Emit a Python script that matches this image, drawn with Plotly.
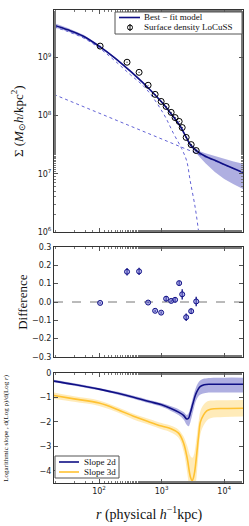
import numpy as np
import plotly.graph_objects as go

# ---------------- data ----------------
# LoCuSS surface density points
r_data = [104, 280, 436, 608, 787, 982, 1180, 1420, 1640, 1905, 2130, 2466, 2965, 3565]
sigma_data = [1.55e9, 8.2e8, 5.5e8, 3.3e8, 2.3e8, 1.74e8, 1.43e8, 1.13e8, 9.2e7, 7.9e7,
              6.2e7, 4.2e7, 3.16e7, 2.5e7]
sigma_err = [2.0e7, 1.5e7, 1.0e7, 4.0e6, 3.0e6, 2.5e6, 2.5e6, 2.0e6, 1.8e6, 1.5e6,
             1.2e6, 1.0e6, 8.0e5, 7.0e5]

# residuals
diff = [-0.005, 0.165, 0.167, -0.003, -0.048, -0.058, 0.018, 0.006, 0.012, 0.103,
        0.042, -0.083, -0.05, 0.003]
diff_err = [0.004, 0.02, 0.02, 0.004, 0.006, 0.006, 0.015, 0.008, 0.015, 0.012,
            0.028, 0.02, 0.015, 0.026]

# best-fit model (log10 r, log10 Sigma) and band
logr_fit = [1.28, 1.5, 1.75, 2.0, 2.25, 2.5, 2.75, 3.0, 3.15, 3.3, 3.4, 3.45, 3.5,
            3.55, 3.6, 3.7, 3.85, 4.0, 4.15, 4.3]
logS_fit = [9.55, 9.47, 9.36, 9.19, 8.99, 8.76, 8.51, 8.23, 8.03, 7.81, 7.61, 7.51, 7.45,
            7.40, 7.36, 7.30, 7.23, 7.16, 7.09, 7.02]
logS_hi = [9.585, 9.50, 9.385, 9.21, 9.005, 8.775, 8.525, 8.245, 8.045, 7.83, 7.63, 7.535,
           7.48, 7.43, 7.39, 7.35, 7.30, 7.25, 7.21, 7.17]
logS_lo = [9.515, 9.44, 9.335, 9.17, 8.975, 8.745, 8.495, 8.215, 8.015, 7.79, 7.59, 7.485,
           7.41, 7.35, 7.29, 7.18, 7.03, 6.91, 6.82, 6.74]

# inner (Einasto) component
logr_in = [1.28, 1.5, 1.75, 2.0, 2.25, 2.5, 2.75, 3.03, 3.19, 3.32, 3.40, 3.456, 3.536,
           3.589, 3.62]
logS_in = [9.52, 9.44, 9.33, 9.16, 8.94, 8.70, 8.46, 8.03, 7.69, 7.43, 7.22, 6.88, 6.42,
           6.02, 5.75]

# outer component
logr_out = [1.28, 2.0, 3.0, 4.3]
logS_out = [8.36, 8.04, 7.60, 7.02]

# logarithmic slopes
logr_sl = [1.28, 1.6, 2.0, 2.3, 2.55, 2.8, 3.0, 3.14, 3.27, 3.35, 3.40, 3.43, 3.46, 3.5,
           3.54, 3.58, 3.62, 3.68, 3.78, 4.0, 4.3]
slope2d = [-0.33, -0.47, -0.66, -0.83, -0.99, -1.17, -1.3, -1.44, -1.6, -1.73, -1.88,
           -1.85, -1.62, -1.25, -0.9, -0.68, -0.55, -0.48, -0.46, -0.46, -0.46]
slope2d_hi = [-0.28, -0.42, -0.61, -0.77, -0.93, -1.1, -1.23, -1.35, -1.48, -1.6, -1.72,
              -1.65, -1.4, -1.0, -0.65, -0.42, -0.3, -0.23, -0.2, -0.19, -0.19]
slope2d_lo = [-0.38, -0.52, -0.71, -0.89, -1.05, -1.24, -1.38, -1.54, -1.72, -1.9, -2.12,
              -2.18, -2.0, -1.6, -1.2, -0.98, -0.88, -0.83, -0.8, -0.8, -0.8]

logr_sl3 = [1.28, 1.6, 2.0, 2.3, 2.55, 2.8, 3.0, 3.14, 3.27, 3.35, 3.41, 3.46, 3.49, 3.52,
            3.54, 3.59, 3.62, 3.67, 3.72, 3.78, 4.0, 4.3]
slope3d = [-0.92, -1.06, -1.23, -1.5, -1.77, -2.0, -2.17, -2.27, -2.46, -2.86, -3.5, -4.25,
           -4.4, -4.15, -3.8, -2.59, -2.0, -1.71, -1.55, -1.48, -1.45, -1.44]
slope3d_hi = [-0.8, -0.95, -1.12, -1.4, -1.67, -1.88, -2.05, -2.15, -2.32, -2.6, -3.0,
              -3.4, -3.47, -3.3, -3.0, -2.0, -1.55, -1.3, -1.18, -1.13, -1.11, -1.1]
slope3d_lo = [-1.05, -1.18, -1.35, -1.62, -1.9, -2.12, -2.3, -2.42, -2.65, -3.2, -4.1,
              -5.0, -5.2, -5.0, -4.7, -3.3, -2.5, -2.15, -1.95, -1.85, -1.8, -1.78]

legend1_labels = ["Best − fit model", "Surface density LoCuSS"]
legend2_labels = ["Slope 2d", "Slope 3d"]

# ---------------- styles ----------------
NAVY = "#0f0f85"
BAND = "rgba(110,110,200,0.55)"
DOT = "#5050d0"
GOLD = "#ffc232"
GOLD_BAND = "rgba(255,205,80,0.40)"
SERIF = "Liberation Serif"
SANS = "DejaVu Sans"

def p10(a):
    return [10 ** v for v in a]

fig = go.Figure()

# ---- panel 1 ----
rf = p10(logr_fit)
fig.add_trace(go.Scatter(x=rf, y=p10(logS_hi), mode="lines", line=dict(width=0),
                         hoverinfo="skip", xaxis="x", yaxis="y"))
fig.add_trace(go.Scatter(x=rf, y=p10(logS_lo), mode="lines", line=dict(width=0),
                         fill="tonexty", fillcolor=BAND,
                         hoverinfo="skip", xaxis="x", yaxis="y"))
fig.add_trace(go.Scatter(x=p10(logr_in), y=p10(logS_in), mode="lines",
                         line=dict(color=DOT, width=0.9, dash="dot", shape="spline"),
                         xaxis="x", yaxis="y"))
fig.add_trace(go.Scatter(x=p10(logr_out), y=p10(logS_out), mode="lines",
                         line=dict(color=DOT, width=0.9, dash="dot"),
                         xaxis="x", yaxis="y"))
fig.add_trace(go.Scatter(x=rf, y=p10(logS_fit), mode="lines",
                         line=dict(color=NAVY, width=1.6, shape="spline"),
                         name=legend1_labels[0], xaxis="x", yaxis="y"))
fig.add_trace(go.Scatter(x=r_data, y=sigma_data, mode="markers",
                         error_y=dict(type="data", array=sigma_err, color="black",
                                      thickness=1, width=0),
                         marker=dict(symbol="circle-open", size=6, color="black",
                                     line=dict(width=1, color="black")),
                         name=legend1_labels[1], xaxis="x", yaxis="y"))

# ---- panel 2 ----
fig.add_trace(go.Scatter(x=[10 ** 1.28, 10 ** 4.31], y=[0, 0], mode="lines",
                         line=dict(color="#777777", width=1, dash="dash"),
                         xaxis="x2", yaxis="y2"))
fig.add_trace(go.Scatter(x=r_data, y=diff, mode="markers",
                         error_y=dict(type="data", array=diff_err, color=NAVY,
                                      thickness=1.3, width=0),
                         marker=dict(symbol="circle", size=5,
                                     color="rgba(120,120,220,0.5)",
                                     line=dict(width=1, color=NAVY)),
                         xaxis="x2", yaxis="y2"))

# ---- panel 3 ----
rs = p10(logr_sl)
rs3 = p10(logr_sl3)
fig.add_trace(go.Scatter(x=rs, y=slope2d_hi, mode="lines", line=dict(width=0, shape="spline"),
                         hoverinfo="skip", xaxis="x3", yaxis="y3"))
fig.add_trace(go.Scatter(x=rs, y=slope2d_lo, mode="lines", line=dict(width=0, shape="spline"),
                         fill="tonexty", fillcolor=BAND,
                         hoverinfo="skip", xaxis="x3", yaxis="y3"))
fig.add_trace(go.Scatter(x=rs3, y=slope3d_hi, mode="lines", line=dict(width=0, shape="spline"),
                         hoverinfo="skip", xaxis="x3", yaxis="y3"))
fig.add_trace(go.Scatter(x=rs3, y=slope3d_lo, mode="lines", line=dict(width=0, shape="spline"),
                         fill="tonexty", fillcolor=GOLD_BAND,
                         hoverinfo="skip", xaxis="x3", yaxis="y3"))
fig.add_trace(go.Scatter(x=rs, y=slope2d, mode="lines",
                         line=dict(color=NAVY, width=1.6, shape="spline"),
                         name=legend2_labels[0], xaxis="x3", yaxis="y3"))
fig.add_trace(go.Scatter(x=rs3, y=slope3d, mode="lines",
                         line=dict(color=GOLD, width=1.6, shape="spline"),
                         name=legend2_labels[1], xaxis="x3", yaxis="y3"))

# ---------------- layout ----------------
W, H = 249, 526
L, R, T, B = 54, 6, 10, 43
ph = H - T - B
pw = W - L - R

def dom(top_px, bot_px):
    return [(H - B - bot_px) / ph, (H - B - top_px) / ph]

def px_x(px):
    return (px - L) / pw

def px_y(py):
    return (H - B - py) / ph

xr = [1.28, 4.30]
axis_common = dict(showline=True, mirror="allticks", linecolor="#333333", linewidth=1,
                   ticks="inside", ticklen=4, tickcolor="#555555", showgrid=False,
                   zeroline=False, tickfont=dict(family=SANS, size=8, color="#222222"))
minor_log = dict(ticks="inside", ticklen=2, tickcolor="#777777", showgrid=False)

xt_vals = [100, 1000, 10000]
xt_text = ["10<sup>2</sup>", "10<sup>3</sup>", "10<sup>4</sup>"]

fig.update_layout(
    width=W, height=H, margin=dict(l=L, r=R, t=T, b=B),
    paper_bgcolor="white", plot_bgcolor="white", showlegend=False,
    xaxis=dict(type="log", range=xr, domain=[0, 1], anchor="y", tickvals=xt_vals,
               showticklabels=False, minor=minor_log, **axis_common),
    yaxis=dict(type="log", range=[6, 9.81], domain=dom(10, 232), anchor="x",
               tickvals=[1e6, 1e7, 1e8, 1e9],
               ticktext=["10<sup>6</sup>", "10<sup>7</sup>", "10<sup>8</sup>", "10<sup>9</sup>"],
               minor=minor_log, **axis_common),
    xaxis2=dict(type="log", range=xr, domain=[0, 1], anchor="y2", tickvals=xt_vals,
                showticklabels=False, minor=minor_log, **axis_common),
    yaxis2=dict(range=[-0.3, 0.3], domain=dom(247, 357), anchor="x2",
                tickvals=[-0.3, -0.2, -0.1, 0.0, 0.1, 0.2, 0.3],
                ticktext=["−0.3", "−0.2", "−0.1", "0.0", "0.1", "0.2", "0.3"],
                **axis_common),
    xaxis3=dict(type="log", range=xr, domain=[0, 1], anchor="y3", tickvals=xt_vals,
                ticktext=xt_text, minor=minor_log, **axis_common),
    yaxis3=dict(range=[-4.5, 0], domain=dom(373, 483), anchor="x3",
                tickvals=[-4, -3, -2, -1, 0],
                ticktext=["−4", "−3", "−2", "−1", "0"], **axis_common),
)

# ---- hand-drawn legends (shapes + text) ----
def rect(x0, y0, x1, y1):
    fig.add_shape(type="rect", xref="paper", yref="paper",
                  x0=px_x(x0), x1=px_x(x1), y0=px_y(y1), y1=px_y(y0),
                  line=dict(color="#555555", width=1), fillcolor="white", layer="above")

def seg(x0, y0, x1, y1, color, width):
    fig.add_shape(type="line", xref="paper", yref="paper",
                  x0=px_x(x0), x1=px_x(x1), y0=px_y(y0), y1=px_y(y1),
                  line=dict(color=color, width=width), layer="above")

def label(x, y, text, size=9):
    fig.add_annotation(text=text, xref="paper", yref="paper", x=px_x(x), y=px_y(y),
                       xanchor="left", yanchor="middle", showarrow=False,
                       font=dict(family=SERIF, size=size, color="#111111"))

# legend 1
rect(115, 12, 242, 34)
seg(119, 17.5, 140, 17.5, NAVY, 1.6)
label(142, 17.5, legend1_labels[0])
fig.add_shape(type="circle", xref="paper", yref="paper",
              x0=px_x(127.5), x1=px_x(132.5), y0=px_y(30), y1=px_y(25),
              line=dict(color="black", width=1), layer="above")
seg(130, 24, 130, 31, "black", 1)
label(142, 27.5, legend1_labels[1])

# legend 2
rect(55, 456, 119, 478)
seg(59, 462, 79, 462, NAVY, 1.6)
label(82, 462, legend2_labels[0])
seg(59, 472, 79, 472, GOLD, 1.6)
label(82, 472, legend2_labels[1])

# axis titles as annotations
fig.add_annotation(text="Σ (<i>M</i><sub>⊙</sub><i>h</i>/kpc<sup>2</sup>)",
                   xref="paper", yref="paper", x=-0.19, y=sum(dom(10, 232)) / 2,
                   xanchor="center", yanchor="middle", textangle=-90, showarrow=False,
                   font=dict(family=SERIF, size=13, color="#111111"))
fig.add_annotation(text="Difference",
                   xref="paper", yref="paper", x=-0.17, y=sum(dom(247, 357)) / 2,
                   xanchor="center", yanchor="middle", textangle=-90, showarrow=False,
                   font=dict(family=SERIF, size=13, color="#111111"))
fig.add_annotation(text="Logarithmic slope , d(Log ρ)/d(Log <i>r</i>)",
                   xref="paper", yref="paper", x=-0.255, y=sum(dom(373, 483)) / 2,
                   xanchor="center", yanchor="middle", textangle=-90, showarrow=False,
                   font=dict(family=SERIF, size=7, color="#111111"))
fig.add_annotation(text="<i>r</i> (physical <i>h</i><sup>−1</sup>kpc)",
                   xref="paper", yref="paper", x=0.5, y=-0.04,
                   xanchor="center", yanchor="top", showarrow=False,
                   font=dict(family=SERIF, size=14, color="#111111"))

fig.write_html("out.html", config={"displayModeBar": False},
               post_script="document.body.style.margin='0px';")
